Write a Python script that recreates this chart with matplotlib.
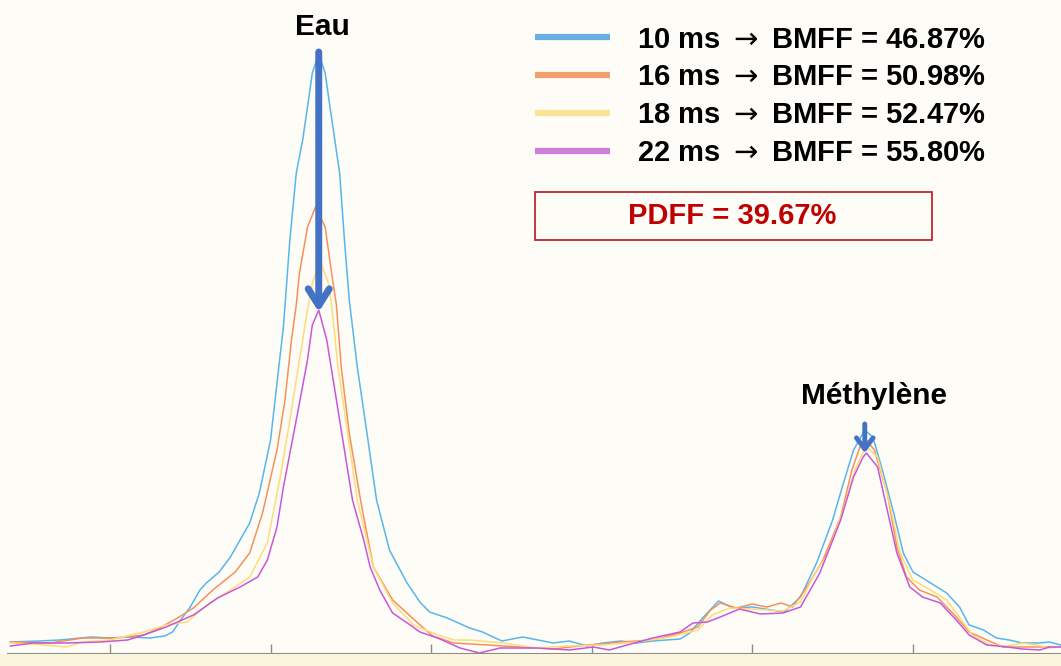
import numpy as np
import matplotlib
matplotlib.use('Agg')
from matplotlib import pyplot as plt
from matplotlib.lines import Line2D
from matplotlib.patches import Rectangle

plt.rcParams['font.family'] = ['Liberation Sans', 'DejaVu Sans']

# spectra: chemical shift (ppm) and signal (arbitrary units)
ppm_10 = [6.62, 6.44, 6.31, 6.12, 6.00, 5.88, 5.75, 5.66, 5.61, 5.56, 5.50, 5.44, 5.40, 5.32,
          5.25, 5.13, 5.07, 5.00, 4.96, 4.92, 4.88, 4.84, 4.80, 4.77, 4.74, 4.70, 4.66, 4.63,
          4.60, 4.57, 4.54, 4.51, 4.46, 4.40, 4.34, 4.26, 4.15, 4.07, 4.01, 3.90, 3.76, 3.68,
          3.56, 3.43, 3.24, 3.14, 3.03, 2.93, 2.82, 2.72, 2.62, 2.45, 2.39, 2.31, 2.21, 2.12,
          2.00, 1.80, 1.70, 1.60, 1.50, 1.44, 1.37, 1.30, 1.25, 1.19, 1.12, 1.06, 1.00, 0.89,
          0.79, 0.71, 0.65, 0.56, 0.48, 0.40, 0.32, 0.21, 0.15, 0.08]
sig_10 = [12, 13, 14, 17, 16, 17, 16, 18, 22, 34, 47, 64, 71, 82,
          97, 131, 161, 214, 271, 327, 414, 481, 514, 547, 581, 600, 581, 547,
          514, 481, 414, 354, 287, 221, 154, 104, 71, 52, 42, 36, 26, 22,
          13, 17, 11, 13, 8, 11, 13, 11, 13, 15, 21, 36, 53, 46,
          47, 42, 57, 91, 134, 167, 204, 224, 217, 184, 141, 101, 82, 71,
          61, 47, 29, 24, 16, 14, 11, 11, 12, 9]

ppm_16 = [6.62, 6.37, 6.17, 5.96, 5.79, 5.69, 5.58, 5.48, 5.36, 5.22, 5.13, 5.05, 4.96, 4.91,
          4.87, 4.84, 4.82, 4.77, 4.72, 4.66, 4.62, 4.59, 4.56, 4.51, 4.44, 4.36, 4.24, 4.09,
          3.99, 3.86, 3.65, 3.45, 3.24, 3.03, 2.93, 2.82, 2.62, 2.45, 2.34, 2.26, 2.20, 2.10,
          2.00, 1.91, 1.82, 1.75, 1.66, 1.56, 1.45, 1.38, 1.33, 1.29, 1.24, 1.16, 1.10, 1.04,
          0.96, 0.85, 0.73, 0.65, 0.54, 0.44, 0.32, 0.21, 0.08]
sig_16 = [12, 11, 16, 16, 19, 26, 36, 46, 64, 82, 101, 141, 204, 254,
          314, 349, 381, 427, 447, 427, 381, 349, 287, 221, 154, 87, 54, 32,
          18, 11, 9, 7, 5, 9, 10, 12, 14, 21, 27, 44, 51, 46,
          50, 47, 51, 47, 67, 94, 137, 184, 207, 214, 204, 161, 107, 77,
          64, 57, 37, 22, 14, 7, 7, 7, 7]

ppm_18 = [6.62, 6.48, 6.27, 6.17, 6.00, 5.79, 5.65, 5.52, 5.38, 5.25, 5.13, 5.02, 4.94, 4.88,
          4.82, 4.77, 4.74, 4.69, 4.64, 4.62, 4.58, 4.52, 4.46, 4.36, 4.24, 4.11, 3.99, 3.86,
          3.76, 3.55, 3.34, 3.14, 2.93, 2.72, 2.51, 2.34, 2.25, 2.14, 2.00, 1.81, 1.70, 1.60,
          1.54, 1.44, 1.36, 1.31, 1.29, 1.22, 1.14, 1.08, 1.00, 0.89, 0.79, 0.73, 0.63, 0.52,
          0.41, 0.32, 0.23, 0.15, 0.08]
sig_18 = [11, 10, 7, 12, 14, 22, 29, 32, 51, 64, 77, 111, 177, 234,
          294, 344, 371, 392, 371, 349, 287, 221, 154, 87, 51, 29, 21, 14,
          14, 11, 6, 8, 9, 12, 17, 24, 39, 46, 45, 43, 52, 84,
          97, 141, 184, 202, 207, 197, 147, 101, 74, 64, 54, 41, 19, 9,
          8, 11, 9, 6, 7]

ppm_22 = [6.62, 6.48, 6.27, 6.06, 5.89, 5.79, 5.65, 5.48, 5.33, 5.19, 5.08, 5.02, 4.96, 4.92,
          4.84, 4.77, 4.74, 4.70, 4.65, 4.59, 4.54, 4.49, 4.42, 4.38, 4.32, 4.24, 4.13, 4.07,
          3.96, 3.82, 3.70, 3.57, 3.34, 3.14, 2.99, 2.89, 2.78, 2.62, 2.45, 2.37, 2.28, 2.20,
          2.08, 1.95, 1.81, 1.70, 1.58, 1.45, 1.37, 1.31, 1.29, 1.22, 1.16, 1.10, 1.02, 0.94,
          0.83, 0.73, 0.65, 0.54, 0.41, 0.32, 0.21, 0.15, 0.08]
sig_22 = [8, 11, 11, 12, 14, 19, 27, 39, 56, 67, 77, 94, 127, 167,
          234, 294, 329, 344, 314, 254, 204, 154, 114, 87, 64, 41, 29, 22,
          16, 6, 1, 6, 6, 4, 7, 4, 9, 16, 22, 31, 32, 37,
          45, 40, 41, 47, 81, 134, 177, 197, 201, 187, 144, 101, 67, 57,
          51, 34, 19, 9, 7, 5, 4, 7, 7]

labels = [r'10 ms $\rightarrow$ BMFF = 46.87%', r'16 ms $\rightarrow$ BMFF = 50.98%',
          r'18 ms $\rightarrow$ BMFF = 52.47%', r'22 ms $\rightarrow$ BMFF = 55.80%']
colors = ['#58b6ec', '#f5915a', '#fddc78', '#c957d9']
legend_colors = ['#6aaee2', '#f2a06e', '#fbe595', '#d07ddc']
pdff_text = 'PDFF = 39.67%'
tick_vals = [6, 5, 4, 3, 2, 1]

fig = plt.figure(figsize=(10.61, 6.66), dpi=100, facecolor='#fdfcf7')
fig.patches.append(Rectangle((0, 0), 1, 12 / 666, transform=fig.transFigure,
                             facecolor='#f8f5dc', edgecolor='none', zorder=0))
ax = fig.add_axes([8 / 1061, 12 / 666, 1053 / 1061, 654 / 666])
ax.set_facecolor('#fdfcf7')

series = [(ppm_10, sig_10), (ppm_16, sig_16), (ppm_18, sig_18), (ppm_22, sig_22)]
for (xs, ys), c in zip(series, colors):
    ax.plot(xs, ys, color=c, lw=1.1, solid_joinstyle='round', zorder=2)

ax.set_xlim(6.635, 0.078)
ax.set_ylim(0, 654)

for s in ['top', 'left', 'right']:
    ax.spines[s].set_visible(False)
ax.spines['bottom'].set_color('#8c8c84')
ax.spines['bottom'].set_linewidth(1.5)
ax.set_yticks([])
ax.set_xticks(tick_vals)
ax.set_xticklabels([str(t) for t in tick_vals])
ax.tick_params(axis='x', direction='in', length=7.5, width=1, color='#8c8c84',
               labelsize=6.5, labelcolor='#555550', pad=1.5)

# arrows showing the drop of the peaks
ax.annotate('', xy=(4.70, 342), xytext=(4.70, 602),
            arrowprops=dict(arrowstyle='->, head_length=0.6, head_width=0.38',
                            color='#4472c4', lw=5, shrinkA=0, shrinkB=0,
                            mutation_scale=20), zorder=5)
ax.annotate('', xy=(1.30, 201), xytext=(1.30, 230),
            arrowprops=dict(arrowstyle='->, head_length=0.4, head_width=0.3',
                            color='#4472c4', lw=3.5, shrinkA=0, shrinkB=0,
                            mutation_scale=20), zorder=5)

ax.text(4.68, 627, 'Eau', ha='center', va='center', fontsize=21.5, fontweight='bold')
ax.text(1.24, 258, 'Méthylène', ha='center', va='center', fontsize=21.5, fontweight='bold')

handles = [Line2D([], [], color=c, lw=4.5, solid_capstyle='butt') for c in legend_colors]
leg = ax.legend(handles, labels, loc='upper left', bbox_to_anchor=(0.5005, 0.961),
                frameon=False, fontsize=21, handlelength=2.57, handletextpad=0.93,
                labelspacing=0.34, borderpad=0, borderaxespad=0)
for t in leg.get_texts():
    t.set_fontweight('bold')

ax.add_patch(Rectangle((0.5005, 0.633), 0.377, 0.0734, transform=ax.transAxes,
                       facecolor='none', edgecolor='#c0282d', lw=1.3, zorder=4))
ax.text(0.6876, 0.6697, pdff_text, transform=ax.transAxes, ha='center', va='center',
        fontsize=21, fontweight='bold', color='#c00000')

plt.savefig('out.png', dpi=100, facecolor=fig.get_facecolor())
